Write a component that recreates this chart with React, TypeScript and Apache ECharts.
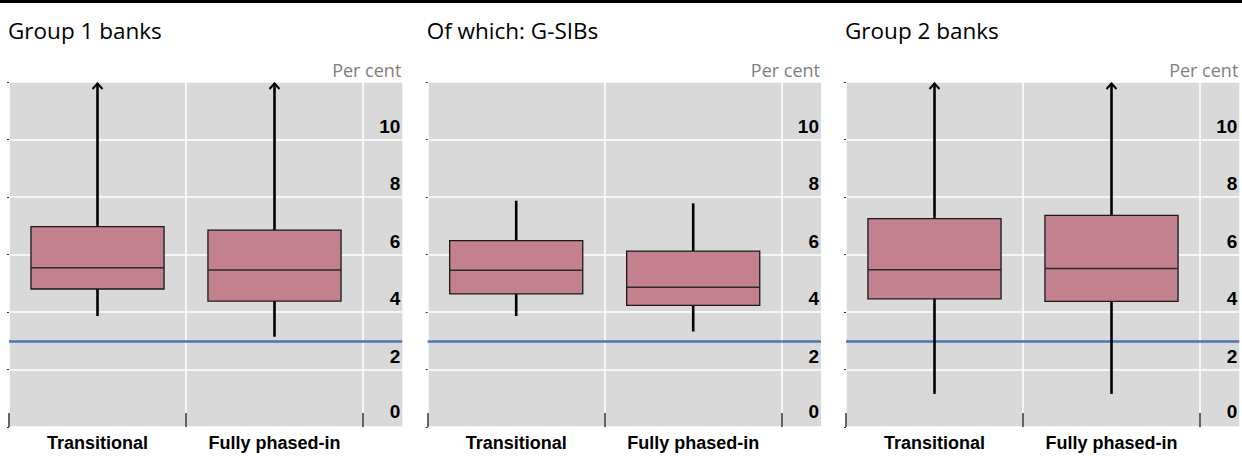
import React, { useEffect, useRef } from 'react';
import * as echarts from 'echarts';

// ---- data ----
const categories = ['Transitional', 'Fully phased-in'];
const panelTitles = ['Group 1 banks', 'Of which: G-SIBs', 'Group 2 banks'];
const unitLabel = 'Per cent';
const yTicks = [0, 2, 4, 6, 8, 10, 12];
const minimumRequirement = 3;

// whisker values above the axis maximum are off-scale (drawn with an arrow)
const group1Lower = [3.86, 3.14];
const group1Q1 = [4.8, 4.38];
const group1Median = [5.54, 5.46];
const group1Q3 = [6.97, 6.85];
const group1Upper = [13, 13];

const gsibLower = [3.86, 3.32];
const gsibQ1 = [4.63, 4.23];
const gsibMedian = [5.45, 4.86];
const gsibQ3 = [6.48, 6.12];
const gsibUpper = [7.87, 7.78];

const group2Lower = [1.15, 1.15];
const group2Q1 = [4.46, 4.37];
const group2Median = [5.47, 5.51];
const group2Q3 = [7.25, 7.36];
const group2Upper = [13, 13];

const panelStats = [
  [group1Lower, group1Q1, group1Median, group1Q3, group1Upper],
  [gsibLower, gsibQ1, gsibMedian, gsibQ3, gsibUpper],
  [group2Lower, group2Q1, group2Median, group2Q3, group2Upper],
];

// ---- layout ----
const Y_MIN = yTicks[0];
const Y_MAX = yTicks[yTicks.length - 1];
const Y_STEP = yTicks[1] - yTicks[0];
const panelLefts = [9, 427.7, 846];
const PLOT_TOP = 82;
const PLOT_H = 345;
const CAT_W = 354;
const LABEL_COL_W = 39.3;
const BG = '#d9d9d9';
const LABEL_FONT = '"Liberation Sans", Arial, sans-serif';
const TITLE_FONT = '"Open Sans", "Noto Sans", sans-serif';

function renderBox(params: any, api: any) {
  const x = api.value(0);
  const lo = api.value(1);
  const q1 = api.value(2);
  const med = api.value(3);
  const q3 = api.value(4);
  const hi = api.value(5);
  const band = api.size([1, 0])[0];
  const w = band * 0.752;
  const cx = api.coord([x, med])[0];
  const yLo = api.coord([x, Math.max(lo, Y_MIN)])[1];
  const yQ1 = api.coord([x, q1])[1];
  const yMed = api.coord([x, med])[1];
  const yQ3 = api.coord([x, q3])[1];
  const yHi = api.coord([x, Math.min(hi, Y_MAX)])[1];
  const children: any[] = [
    { type: 'line', shape: { x1: cx, y1: yQ3, x2: cx, y2: yHi + (hi > Y_MAX ? 1 : 0) }, style: { stroke: '#000', lineWidth: 2.6 } },
    { type: 'line', shape: { x1: cx, y1: yQ1, x2: cx, y2: yLo }, style: { stroke: '#000', lineWidth: 2.6 } },
    { type: 'rect', shape: { x: cx - w / 2, y: yQ3, width: w, height: yQ1 - yQ3 }, style: { fill: '#c3808f', stroke: '#1a1a1a', lineWidth: 1.3 } },
    { type: 'line', shape: { x1: cx - w / 2, y1: yMed, x2: cx + w / 2, y2: yMed }, style: { stroke: '#2a2a2a', lineWidth: 1.5 } },
  ];
  if (hi > Y_MAX) {
    children.push({
      type: 'polyline',
      shape: { points: [[cx - 5, yHi + 7], [cx, yHi + 1.5], [cx + 5, yHi + 7]] },
      style: { stroke: '#000', lineWidth: 2, fill: 'none' },
    });
  }
  return { type: 'group', children };
}

export default function App() {
  const ref = useRef<HTMLDivElement>(null);
  useEffect(() => {
    if (!ref.current) return;
    const chart = echarts.init(ref.current, null, { renderer: 'svg' });
    const grid: any[] = [];
    const xAxis: any[] = [];
    const yAxis: any[] = [];
    const series: any[] = [];
    const graphic: any[] = [
      { type: 'rect', shape: { x: 0, y: 0, width: 1242, height: 3 }, style: { fill: '#000' } },
    ];
    const refLine = {
      silent: true,
      symbol: 'none',
      label: { show: false },
      lineStyle: { color: '#4a74b4', width: 2.5, type: 'solid' },
      data: [{ yAxis: minimumRequirement }],
    };
    panelLefts.forEach((left, p) => {
      const a = p * 2;
      const b = p * 2 + 1;
      grid.push({ left, top: PLOT_TOP, width: CAT_W, height: PLOT_H, show: true, backgroundColor: BG, borderWidth: 0 });
      grid.push({ left: left + CAT_W, top: PLOT_TOP, width: LABEL_COL_W, height: PLOT_H, show: true, backgroundColor: BG, borderWidth: 0 });
      xAxis.push({
        type: 'category', gridIndex: a, data: categories, boundaryGap: true,
        axisLine: { show: false },
        axisTick: { show: true, inside: true, length: 14, lineStyle: { color: '#333', width: 1.5 } },
        splitLine: { show: true, interval: 0, lineStyle: { color: '#fff', width: 1.5 } },
        axisLabel: { interval: 0, margin: 7, color: '#000', fontWeight: 'bold', fontSize: 18, fontFamily: LABEL_FONT },
      });
      xAxis.push({ type: 'value', gridIndex: b, min: 0, max: 1, show: false });
      yAxis.push({
        type: 'value', gridIndex: a, min: Y_MIN, max: Y_MAX, interval: Y_STEP, position: 'left',
        axisLine: { show: false },
        axisTick: { show: true, length: 2, lineStyle: { color: '#333' } },
        axisLabel: { show: false },
        splitLine: { show: true, lineStyle: { color: '#fff', width: 1.5 } },
      });
      yAxis.push({
        type: 'value', gridIndex: b, min: Y_MIN, max: Y_MAX, interval: Y_STEP, position: 'right',
        axisLine: { show: false }, axisTick: { show: false },
        splitLine: { show: true, lineStyle: { color: '#fff', width: 1.5 } },
        axisLabel: {
          inside: true, align: 'right', margin: 2, verticalAlign: 'bottom',
          formatter: (v: number) => (v === Y_MAX ? '' : v === Y_MIN ? `{z|${v}}` : `{n|${v}}`),
          rich: {
            n: { fontWeight: 'bold', fontSize: 19, fontFamily: LABEL_FONT, color: '#000', padding: [0, 0, 4, 0] },
            z: { fontWeight: 'bold', fontSize: 19, fontFamily: LABEL_FONT, color: '#000', padding: [0, 0, 6, 0] },
          },
        },
      });
      const stats = panelStats[p];
      series.push({ type: 'line', xAxisIndex: a, yAxisIndex: a, data: [], z: 3, markLine: refLine });
      series.push({ type: 'line', xAxisIndex: b, yAxisIndex: b, data: [], z: 3, markLine: refLine });
      series.push({
        type: 'custom', xAxisIndex: a, yAxisIndex: a, z: 5, clip: false,
        renderItem: renderBox,
        encode: { x: 0, y: [1, 2, 3, 4, 5] },
        data: categories.map((_, i) => [i, stats[0][i], stats[1][i], stats[2][i], stats[3][i], stats[4][i]]),
      });
      graphic.push({
        type: 'text', left: left - 1, top: 19,
        style: { text: panelTitles[p], font: `22.5px ${TITLE_FONT}`, fill: '#000' },
      });
      graphic.push({
        type: 'text', x: left + CAT_W + LABEL_COL_W - 1, y: 70,
        style: { text: unitLabel, font: `18px ${TITLE_FONT}`, fill: '#7f7f7f', align: 'right', verticalAlign: 'middle' },
      });
    });
    chart.setOption({ animation: false, grid, xAxis, yAxis, series, graphic });
    return () => chart.dispose();
  }, []);
  return <div ref={ref} style={{ position: 'absolute', left: 0, top: 0, width: 1242, height: 456 }} />;
}
